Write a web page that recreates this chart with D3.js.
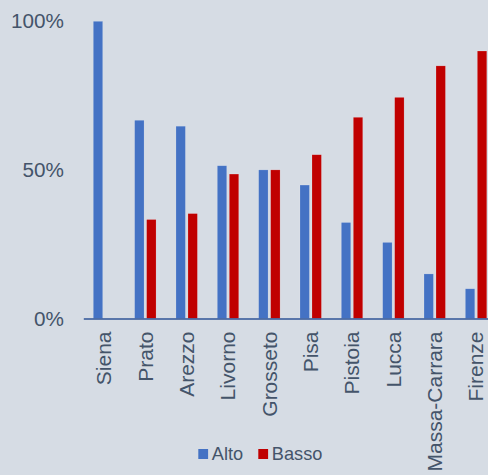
<!DOCTYPE html>
<html>
<head>
<meta charset="utf-8">
<script src="https://cdn.jsdelivr.net/npm/d3@7"></script>
<style>
  html, body { margin: 0; padding: 0; background: #d6dce4; }
  svg { display: block; font-family: "Liberation Sans", Arial, sans-serif; }
</style>
</head>
<body>
<svg id="chart" width="488" height="475"></svg>
<script>
// Share of each province by level (Alto / Basso)
const categories = ["Siena", "Prato", "Arezzo", "Livorno", "Grosseto", "Pisa", "Pistoia", "Lucca", "Massa-Carrara", "Firenze"];
const seriesNames = ["Alto", "Basso"];
const alto  = [1.000, 0.667, 0.647, 0.514, 0.500, 0.449, 0.323, 0.256, 0.150, 0.100];
const basso = [0.000, 0.333, 0.353, 0.486, 0.500, 0.551, 0.677, 0.744, 0.850, 0.900];
const yTicks = [0, 0.5, 1];
const colors = ["#4472c4", "#c00000"];

const svg = d3.select("#chart");
const textColor = "#44546a";

const x = d3.scaleBand().domain(categories).range([83.3, 496.7]).paddingInner(0).paddingOuter(0);
const xInner = d3.scaleBand().domain(seriesNames).range([10, 31.4]).paddingInner(0.2167).paddingOuter(0);
const y = d3.scaleLinear().domain([0, 1]).range([318.5, 21.3]);
const color = d3.scaleOrdinal().domain(seriesNames).range(colors);

const rows = categories.map((c, i) => ({ cat: c, values: [ { key: "Alto", v: alto[i] }, { key: "Basso", v: basso[i] } ] }));

// bars
const groups = svg.append("g").selectAll("g").data(rows).join("g")
  .attr("transform", d => `translate(${x(d.cat)},0)`);
groups.selectAll("rect").data(d => d.values.filter(e => e.v > 0)).join("rect")
  .attr("x", d => xInner(d.key))
  .attr("width", xInner.bandwidth())
  .attr("y", d => y(d.v))
  .attr("height", d => y(0) - y(d.v))
  .attr("fill", d => color(d.key))
  .attr("stroke", "#ffffff")
  .attr("stroke-opacity", 0.25)
  .attr("stroke-width", 0.6);

// y axis labels (no axis line)
const yAxis = d3.axisLeft(y).tickValues(yTicks).tickFormat(d3.format(".0%")).tickSize(0).tickPadding(0);
const yg = svg.append("g").attr("transform", "translate(64,0)").call(yAxis);
yg.select(".domain").remove();
yg.selectAll("text")
  .attr("fill", textColor)
  .attr("font-size", "20.7px")
  .attr("font-family", "Liberation Sans, Arial, sans-serif");

// x axis baseline and rotated category labels
const xAxis = d3.axisBottom(x).tickSize(0).tickPadding(0);
const xg = svg.append("g").attr("transform", `translate(0,${y(0)})`).call(xAxis);
xg.select(".domain").attr("stroke", "#2f5597").attr("stroke-width", 1.4);
xg.selectAll("text")
  .attr("fill", textColor)
  .attr("font-size", "21px")
  .attr("font-family", "Liberation Sans, Arial, sans-serif")
  .attr("text-anchor", "end")
  .attr("dy", "0.35em")
  .attr("transform", "translate(0,13) rotate(-90)")
  .attr("x", 0)
  .attr("y", 0);

// legend
const legend = svg.append("g").attr("transform", "translate(198.3,449)");
const legendX = [0, 60];
seriesNames.forEach((s, i) => {
  const lg = legend.append("g").attr("transform", `translate(${legendX[i]},0)`);
  lg.append("rect").attr("width", 9.8).attr("height", 10).attr("fill", color(s));
  lg.append("text").attr("x", 13.5).attr("y", 5).attr("dy", "0.35em")
    .attr("fill", textColor).attr("font-size", "18.2px").text(s);
});
</script>
</body>
</html>
